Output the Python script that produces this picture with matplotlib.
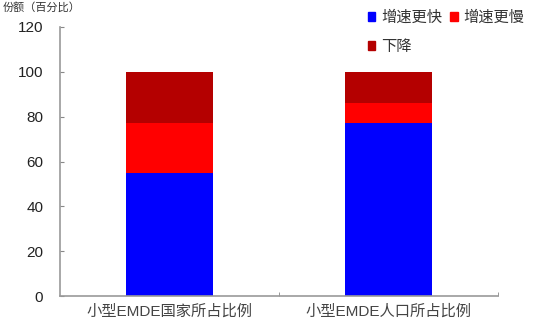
import numpy as np
import matplotlib.pyplot as plt
from matplotlib.patches import Patch

plt.rcParams['font.family'] = ['Liberation Sans', 'Noto Sans CJK SC', 'DejaVu Sans']

# 数据
categories = ['小型EMDE国家所占比例', '小型EMDE人口所占比例']
faster = [55, 77]
slower = [22, 9]
decline = [23, 14]
series_names = ['增速更快', '增速更慢', '下降']
colors = ['#0000FF', '#FF0000', '#B40000']

fig = plt.figure(figsize=(5.36, 3.25), dpi=100)
ax = fig.add_axes([0.112, 0.089, 0.817, 0.828])

x = np.arange(len(categories))
w = 0.4
bottom = np.zeros(len(categories))
for vals, c in zip([faster, slower, decline], colors):
    ax.bar(x, vals, w, bottom=bottom, color=c, linewidth=0)
    bottom += np.array(vals)

ax.set_xlim(-0.5, 1.5)
ax.set_ylim(0, 120)
ax.set_yticks(np.arange(0, 121, 20))
ax.set_xticks(x)
ax.set_xticklabels(categories, fontsize=11, color='#444444')
ax.tick_params(axis='x', length=0, pad=6)
ax.set_xticks([0.5, 1.5], minor=True)
ax.tick_params(axis='x', which='minor', direction='in', length=3, color='#888888')
ax.tick_params(axis='y', direction='in', length=3, color='#888888', labelsize=11, pad=12,
               labelcolor='#222222')

for s in ['top', 'right']:
    ax.spines[s].set_visible(False)
for s in ['left', 'bottom']:
    ax.spines[s].set_color('#999999')
    ax.spines[s].set_linewidth(1.2)

# 图例按行排列：快、慢 / 下降
handles = [Patch(color=colors[0]), Patch(color=colors[2]), Patch(color=colors[1])]
labels = [series_names[0], series_names[2], series_names[1]]
fig.legend(handles, labels, ncol=2, loc='upper left', bbox_to_anchor=(0.66, 1.01),
           frameon=False, fontsize=11, handlelength=0.5, handleheight=0.5,
           handletextpad=0.4, columnspacing=0.5, labelspacing=1.0,
           labelcolor='#333333')

# 单位说明
fig.text(0.005, 0.995, '份额（百分比）', fontsize=8, color='#333333', va='top', ha='left')

fig.savefig('out.png', dpi=100)
